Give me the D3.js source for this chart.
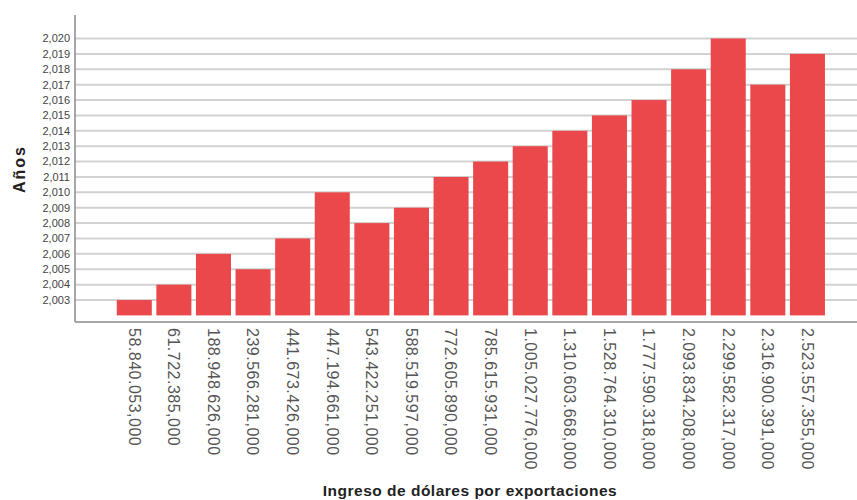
<!DOCTYPE html>
<html><head><meta charset="utf-8">
<script src="https://cdn.jsdelivr.net/npm/d3@7"></script>
<style>body{margin:0;background:#fff}svg{display:block;font-family:Arial,"Liberation Sans",sans-serif}</style>
</head><body>
<svg id="c" width="857" height="500"></svg>
<script>
const categories = ["58.840.053,000","61.722.385,000","188.948.626,000","239.566.281,000","441.673.426,000","447.194.661,000","543.422.251,000","588.519.597,000","772.605.890,000","785.615.931,000","1.005.027.776,000","1.310.603.668,000","1.528.764.310,000","1.777.590.318,000","2.093.834.208,000","2.299.582.317,000","2.316.900.391,000","2.523.557.355,000"];
const years = [2003,2004,2006,2005,2007,2010,2008,2009,2011,2012,2013,2014,2015,2016,2018,2020,2017,2019];
const yTicks = [2003,2004,2005,2006,2007,2008,2009,2010,2011,2012,2013,2014,2015,2016,2017,2018,2019,2020];
const yBase = 2002;

const svg = d3.select("#c");
const plot = {left:75, right:857, top:15, bottom:322};

const y = d3.scaleLinear().domain([yBase, 2020]).range([315.4, 38.5]);
const x = d3.scaleBand().domain(categories).range([112.2, 829.5]).padding(0.115);

// gridlines
svg.append("g").selectAll("line").data(yTicks).join("line")
  .attr("x1", plot.left).attr("x2", plot.right)
  .attr("y1", d => y(d)).attr("y2", d => y(d))
  .attr("stroke", "#d2d2d2").attr("stroke-width", 2);

// y tick labels
const fmt = d3.format(",");
svg.append("g").selectAll("text").data(yTicks).join("text")
  .attr("x", 70).attr("y", d => y(d)).attr("dy", "0.35em")
  .attr("text-anchor", "end").attr("font-size", 11).attr("fill", "#444")
  .text(d => fmt(d));

// bars
svg.append("g").selectAll("rect").data(categories).join("rect")
  .attr("x", d => x(d)).attr("width", x.bandwidth())
  .attr("y", (d,i) => y(years[i])).attr("height", (d,i) => y(yBase) - y(years[i]))
  .attr("fill", "#ea484b");

// axes lines
svg.append("line").attr("x1", plot.left).attr("x2", plot.left).attr("y1", plot.top).attr("y2", plot.bottom)
  .attr("stroke", "#8a8a8a").attr("stroke-width", 1.5);
svg.append("line").attr("x1", plot.left).attr("x2", plot.right).attr("y1", plot.bottom).attr("y2", plot.bottom)
  .attr("stroke", "#8a8a8a").attr("stroke-width", 1.5);

// x tick labels
svg.append("g").selectAll("text").data(categories).join("text")
  .attr("transform", d => `translate(${x(d) + x.bandwidth()/2},328) rotate(90)`)
  .attr("dy", "0.35em").attr("text-anchor", "start")
  .attr("font-size", 16).attr("letter-spacing", 0.5).attr("fill", "#555")
  .text(d => d);

// axis titles
svg.append("text").attr("x", 470).attr("y", 496).attr("text-anchor", "middle")
  .attr("font-size", 15.5).attr("letter-spacing", 0.5).attr("font-weight", "bold").attr("fill", "#222")
  .text("Ingreso de dólares por exportaciones");
svg.append("text").attr("transform", "translate(19,169) rotate(-90)")
  .attr("dy", "0.35em").attr("text-anchor", "middle")
  .attr("font-size", 16).attr("letter-spacing", 2).attr("font-weight", "bold").attr("fill", "#222")
  .text("Años");
</script>
</body></html>
